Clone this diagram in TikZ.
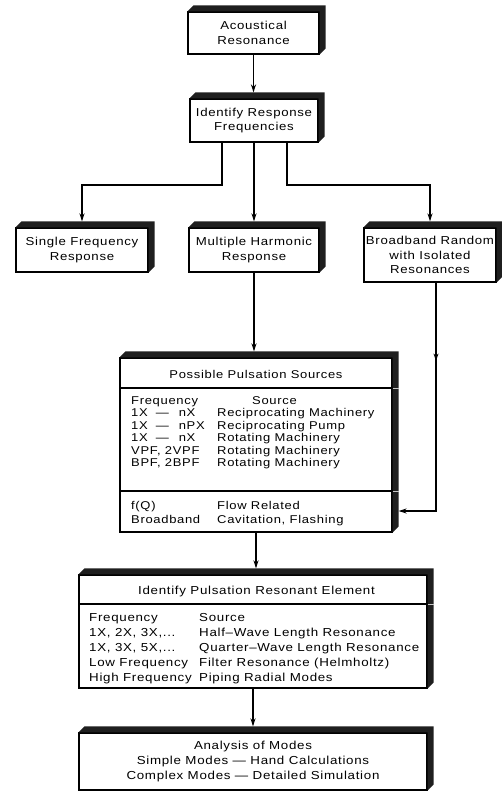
\documentclass[tikz,border=0pt]{standalone}
\usepackage{fontspec}
\setmainfont{Liberation Sans}[FakeStretch=1.15,LetterSpace=6]
\usetikzlibrary{arrows.meta,calc,decorations.markings}

\tikzset{
  face/.style={draw=black, line width=1.2pt, fill=white, inner sep=0pt, align=center,
               font=\fontsize{11.5}{14.5}\selectfont},
  extrude/.style={fill=black!88},
  conn/.style={draw=black, line width=1.9pt, -{Stealth[length=8pt,width=5pt]}},
  divider/.style={draw=black, line width=1.2pt},
  gap/.style={draw=gray!45, line width=0.9pt},
  txt/.style={inner sep=0pt, font=\fontsize{11.3}{12.5}\selectfont},
  txtb/.style={inner sep=0pt, font=\fontsize{11.6}{15}\selectfont},
}

% dark extruded top and right faces of a box
\newcommand\extrudebox[1]{%
  \fill[extrude] (#1.north west) -- ++(6pt,6pt) -| ($(#1.south east)+(6pt,6pt)$)
    -- (#1.south east) -- (#1.north east) -- cycle;}

\begin{document}
\begin{tikzpicture}[x=1pt,y=-1pt]
\path[use as bounding box, fill=white] (0,0) rectangle (501,793);

% ---- boxes ----
\node[face, minimum width=131pt, minimum height=42pt] (b1) at (253.5,33) {Acoustical\\Resonance};
\node[face, minimum width=128pt, minimum height=43pt] (b2) at (254,120.5) {Identify Response\\Frequencies};
\node[face, minimum width=132pt, minimum height=44pt] (b3) at (82,250) {Single Frequency\\Response};
\node[face, minimum width=130pt, minimum height=44pt] (b4) at (254,250) {Multiple Harmonic\\Response};
\node[face, minimum width=132pt, minimum height=54pt] (b5) at (430,255) {Broadband Random\\with Isolated\\Resonances};
\node[face, minimum width=272pt, minimum height=174pt] (b6) at (256,445) {};
\node[face, minimum width=348pt, minimum height=113pt] (b7) at (253,631.5) {};
\node[face, minimum width=348pt, minimum height=57pt, font=\fontsize{11.6}{15}\selectfont] (b8) at (253,761.5)
  {Analysis of Modes\\Simple Modes — Hand Calculations\\Complex Modes — Detailed Simulation};

\foreach \b in {b1,b2,b3,b4,b5,b6,b7,b8} {\extrudebox{\b}}

% ---- table dividers ----
\coordinate (d6a) at (0,388);
\coordinate (d6b) at (0,491);
\coordinate (d7a) at (0,604);
\foreach \b/\d in {b6/d6a, b6/d6b, b7/d7a} {
  \draw[divider] (\b.west |- \d) -- (\b.east |- \d);
  \draw[gap] (\b.east |- \d) -- ++(6pt,0);
}

% ---- pulsation sources table ----
\node[txt, anchor=base] (h6) at (256,378) {Possible Pulsation Sources};
\node[txt, anchor=base west] (p0a) at (131,404) {Frequency};
\node[txt, anchor=base west] (p0b) at (252,404) {Source};
\node[txt, anchor=base west] (p1a) at (131,416.5) {1X\hspace{8pt}—\hspace{10pt}nX};
\node[txt, anchor=base west] (p1b) at (217,416.5) {Reciprocating Machinery};
\node[txt, anchor=base west] (p2a) at (131,429) {1X\hspace{8pt}—\hspace{10pt}nPX};
\node[txt, anchor=base west] (p2b) at (217,429) {Reciprocating Pump};
\node[txt, anchor=base west] (p3a) at (131,441.5) {1X\hspace{8pt}—\hspace{10pt}nX};
\node[txt, anchor=base west] (p3b) at (217,441.5) {Rotating Machinery};
\node[txt, anchor=base west] (p4a) at (131,454) {VPF, 2VPF};
\node[txt, anchor=base west] (p4b) at (217,454) {Rotating Machinery};
\node[txt, anchor=base west] (p5a) at (131,466.5) {BPF, 2BPF};
\node[txt, anchor=base west] (p5b) at (217,466.5) {Rotating Machinery};
\node[txt, anchor=base west] (p6a) at (131,509) {f(Q)};
\node[txt, anchor=base west] (p6b) at (217,509) {Flow Related};
\node[txt, anchor=base west] (p7a) at (131,523) {Broadband};
\node[txt, anchor=base west] (p7b) at (217,523) {Cavitation, Flashing};

% ---- resonant element table ----
\node[txtb, anchor=base] (h7) at (256.5,594) {Identify Pulsation Resonant Element};
\node[txtb, anchor=base west] (r0a) at (89,621) {Frequency};
\node[txtb, anchor=base west] (r0b) at (199,621) {Source};
\node[txtb, anchor=base west] (r1a) at (89,636) {1X, 2X, 3X,...};
\node[txtb, anchor=base west] (r1b) at (199,636) {Half–Wave Length Resonance};
\node[txtb, anchor=base west] (r2a) at (89,651) {1X, 3X, 5X,...};
\node[txtb, anchor=base west] (r2b) at (199,651) {Quarter–Wave Length Resonance};
\node[txtb, anchor=base west] (r3a) at (89,666) {Low Frequency};
\node[txtb, anchor=base west] (r3b) at (199,666) {Filter Resonance (Helmholtz)};
\node[txtb, anchor=base west] (r4a) at (89,681) {High Frequency};
\node[txtb, anchor=base west] (r4b) at (199,681) {Piping Radial Modes};

% ---- connectors ----
\coordinate (s1) at (222,185);
\coordinate (s2) at (287,185);
\coordinate (feed) at (436,511);
\draw[conn] (b1.south) -- ($(b1.south |- b2.north)+(0,6pt)$);
\draw[conn] (b2.south -| s1) -- (s1) -| ($(b3.north)+(0,6pt)$);
\draw[conn] (b2.south) -- ($(b2.south |- b4.north)+(0,6pt)$);
\draw[conn] (b2.south -| s2) -- (s2) -| ($(b5.north)+(0,6pt)$);
\draw[conn] (b4.south) -- ($(b4.south |- b6.north)+(0,6pt)$);
\draw[conn, decoration={markings, mark=at position 78pt with {\arrow{Stealth[length=7pt,width=5pt]}}},
      postaction={decorate}]
  (b5.south -| feed) -- (feed) -- ($(b6.east |- feed)+(6pt,0)$);
\draw[conn] (b6.south) -- ($(b6.south |- b7.north)+(0,6pt)$);
\draw[conn] (b7.south) -- ($(b7.south |- b8.north)+(0,6pt)$);
\end{tikzpicture}
\end{document}
